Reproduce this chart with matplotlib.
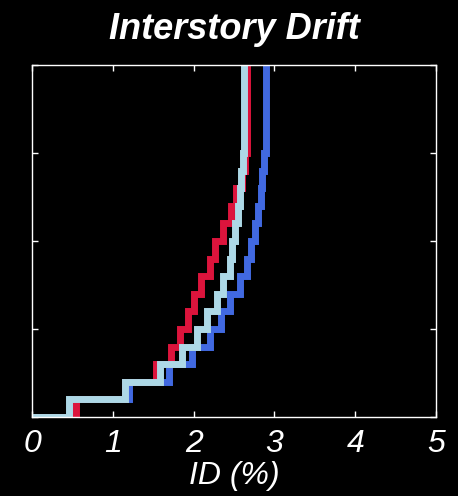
import numpy as np
import matplotlib.pyplot as plt

# interstory drift (%) per story, 20 stories
stories = np.arange(0, 21)
drift_red = [0.55, 1.15, 1.53, 1.72, 1.83, 1.93, 2.00, 2.09, 2.20, 2.27,
             2.37, 2.46, 2.53, 2.60, 2.63, 2.66, 2.66, 2.66, 2.66, 2.66]
drift_lightblue = [0.46, 1.15, 1.59, 1.86, 2.04, 2.17, 2.29, 2.37, 2.45, 2.48,
                   2.51, 2.55, 2.57, 2.59, 2.61, 2.62, 2.62, 2.62, 2.62, 2.62]
drift_blue = [0.49, 1.20, 1.69, 1.98, 2.20, 2.34, 2.45, 2.57, 2.66, 2.71,
              2.76, 2.80, 2.83, 2.85, 2.87, 2.89, 2.90, 2.90, 2.90, 2.90]
xticks = [0, 1, 2, 3, 4, 5]
yticks = [0, 5, 10, 15, 20]

plt.rcParams['font.family'] = ['Liberation Sans', 'DejaVu Sans']

fig = plt.figure(figsize=(4.58, 4.96), dpi=100, facecolor='black')
ax = fig.add_axes([32/458, 79/496, 404/458, 352/496], facecolor='black')

for d, c in [(drift_blue, '#4169E1'), (drift_red, '#DC143C'), (drift_lightblue, '#ADD8E6')]:
    ax.step(np.concatenate([[0], d]), stories, where='post', color=c, lw=5,
            solid_joinstyle='miter')

ax.set_xlim(0, 5)
ax.set_ylim(0, 20)
ax.set_xticks(xticks)
ax.set_yticks(yticks)
ax.set_yticklabels([])
ax.set_xticklabels([str(t) for t in xticks], fontsize=23, style='italic', color='white')
ax.tick_params(direction='in', length=4, width=1, color='white', top=True, right=True, pad=9)
for s in ax.spines.values():
    s.set_color('white')
    s.set_linewidth(1)

ax.set_xlabel('ID (%)', fontsize=23, style='italic', color='white', labelpad=1)
ax.set_title('Interstory Drift', fontsize=26, style='italic', weight='bold', color='white', pad=19)

fig.savefig('out.png', facecolor='black')
